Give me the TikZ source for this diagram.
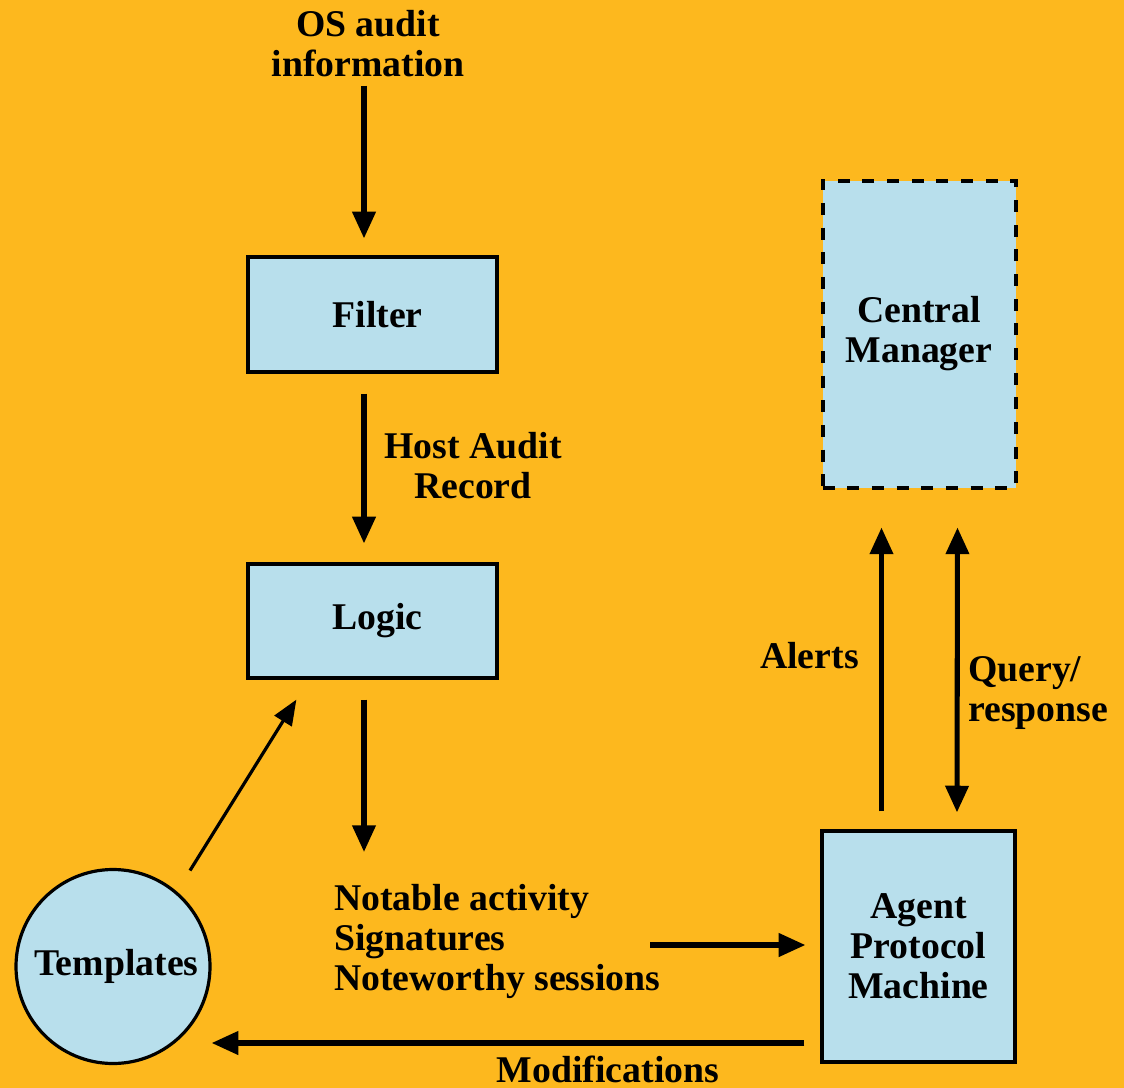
\documentclass[tikz,border=0pt]{standalone}
\usepackage{fontspec}
\setmainfont{Liberation Serif}
\usetikzlibrary{arrows.meta,calc}
\definecolor{bgorange}{HTML}{FDB81E}
\definecolor{boxblue}{HTML}{B8DFEC}
\tikzset{
  lbl/.style={font=\fontsize{28.3}{30}\selectfont\bfseries, align=center, inner sep=0pt},
  box/.style={draw=black, fill=boxblue, line width=2.4pt, inner sep=0pt, lbl},
  dashbox/.style={box, line width=3pt, dash pattern=on 9pt off 9.5pt},
  roundbox/.style={box, circle},
  arr/.style={line width=3.8pt, -{Triangle[width=17pt,length=20pt]}},
  darr/.style={line width=3.8pt, {Triangle[width=17pt,length=20pt]}-{Triangle[width=17pt,length=20pt]}},
  thinarr/.style={line width=2.4pt, -{Triangle[width=15pt,length=19pt]}}
}
\begin{document}
\begin{tikzpicture}[x=0.75pt,y=-0.75pt]
  \fill[bgorange] (0,0) rectangle (1124,1088);
  \useasboundingbox (0,0) rectangle (1124,1088);

  % boxes
  \node[box, minimum width=186.75pt, minimum height=86.25pt] (filter) at (372.5,314.5) {\hspace*{7.5pt}Filter};
  \node[box, minimum width=186.75pt, minimum height=85.5pt] (logic) at (372.5,621) {\hspace*{7.5pt}Logic};
  \node[dashbox, minimum width=144.75pt, minimum height=230.25pt] (cm) at (919,334) {Central\\Manager};
  \node[box, minimum width=144.75pt, minimum height=173.25pt] (agent) at (918.5,946.5) {Agent\\Protocol\\Machine};
  \node[roundbox, minimum size=145.5pt] (tmpl) at (113,966.5) {\hspace*{5pt}Templates};

  % labels
  \node[lbl] (os) at (368,44) {OS audit\\information};
  \node[lbl] (har) at (473,466) {Host Audit\\Record};
  \node[lbl, align=left, anchor=north west] (notes) at (334,884) {Notable activity\\Signatures\\Noteworthy sessions};
  \node[lbl, anchor=east] (alerts) at (859,656) {Alerts};
  \node[lbl, align=left, anchor=west] (qr) at (968,693) {Query/\\response};
  \node[lbl] (mods) at (608,1069) {Modifications};

  % flows
  \draw[arr] ($(os.south)+(-4,8)$) -- ($(filter.north)+(-8.5,-17)$);
  \draw[arr] ($(filter.south)+(-8.5,20)$) -- ($(logic.north)+(-8.5,-19)$);
  \draw[arr] ($(logic.south)+(-8.5,20)$) -- ($(notes.north west)+(30,-32)$);
  \draw[thinarr] ($(tmpl.center)+(77,-96)$) -- ($(logic.south west)+(50,20)$);
  \draw[arr] ($(agent.west)+(-170,-1.5)$) -- ($(agent.west)+(-15,-1.5)$);
  \draw[arr] ($(agent.west)+(-16,96.5)$) -- ($(tmpl.east)+(0,76.5)$);
  \draw[arr] ($(agent.north)+(-37,-18)$) -- ($(cm.south)+(-37.5,38)$);
  \draw[darr] ($(agent.north)+(38.5,-17)$) -- ($(cm.south)+(38.5,38)$);
\end{tikzpicture}
\end{document}
